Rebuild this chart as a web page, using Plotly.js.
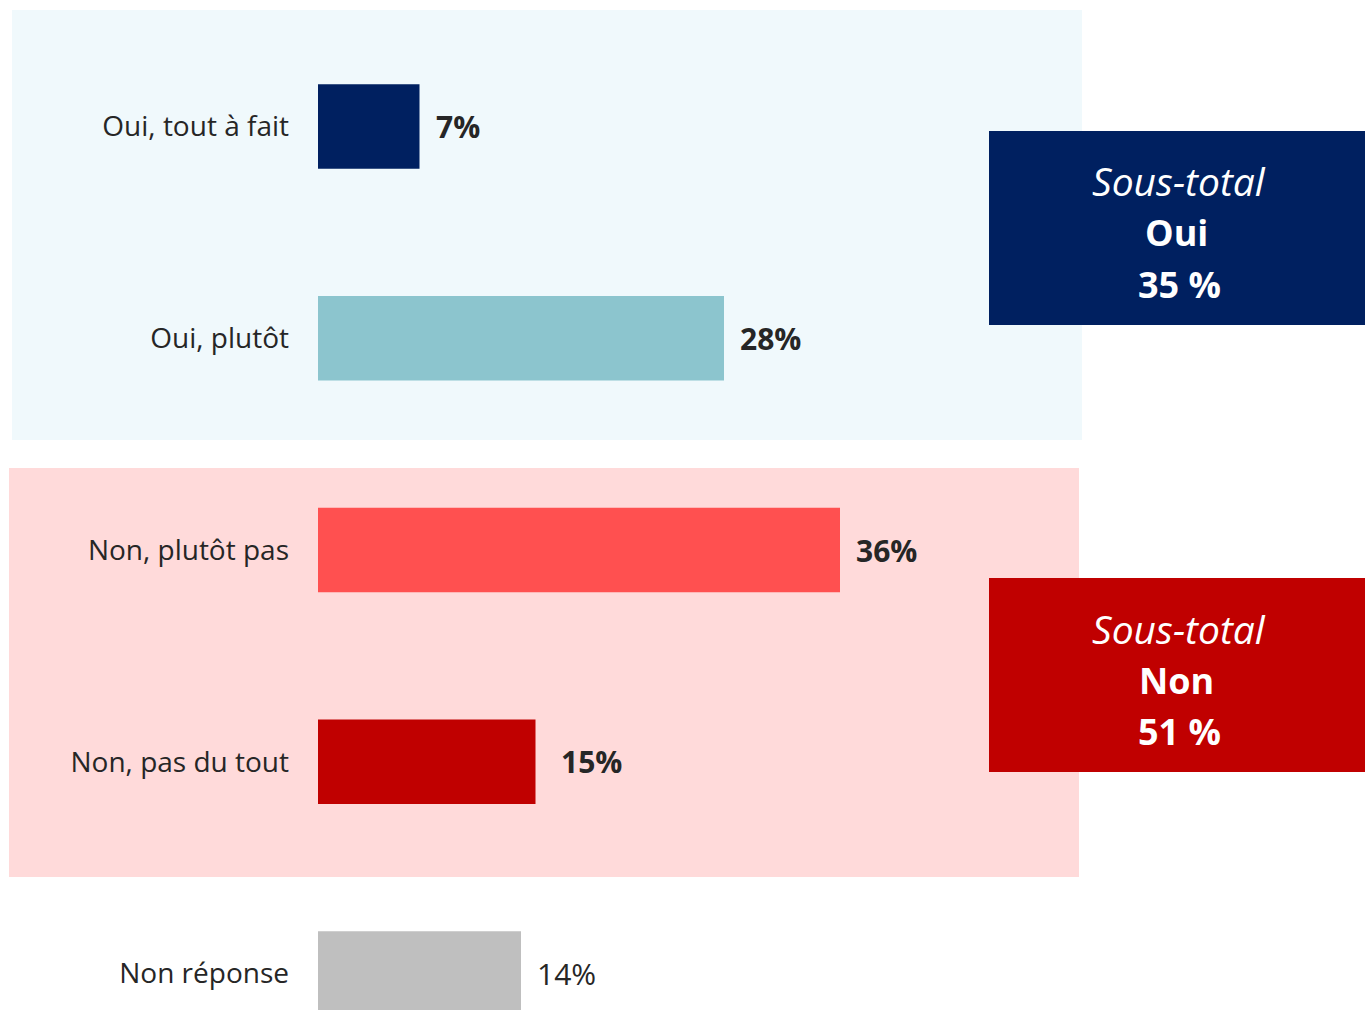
<!DOCTYPE html>
<html>
<head>
<meta charset="utf-8">
<script src="https://cdn.plot.ly/plotly-3.0.1.min.js"></script>
<style>html,body{margin:0;padding:0;background:#fff;}#chart{width:1365px;height:1010px;}</style>
</head>
<body>
<div id="chart"></div>
<script>
const categories = ['Oui, tout à fait', 'Oui, plutôt', 'Non, plutôt pas', 'Non, pas du tout', 'Non réponse'];
const values = [7, 28, 36, 15, 14];
const valueLabels = ['7%', '28%', '36%', '15%', '14%'];
const barColors = ['#002060', '#8CC5CE', '#FF5050', '#C00000', '#BFBFBF'];
const labelBold = [true, true, true, true, false];
const labelShift = [14, 14, 14, 23, 14];

const subtotalNames = ['Oui', 'Non'];
const subtotalValues = [35, 51];
const subtotalColors = ['#002060', '#C00000'];

const W = 1365, H = 1010, L = 318;
const pxPerPct = 14.5;
const px = v => (v - L) / (W - L);
const py = v => 1 - v / H;

const font = '"Open Sans", "Noto Sans", sans-serif';

const trace = {
  type: 'bar',
  orientation: 'h',
  y: categories,
  x: values,
  marker: {color: barColors},
  hoverinfo: 'none'
};

const shapes = [
  {type: 'rect', xref: 'paper', yref: 'paper', x0: px(12), x1: px(1082), y0: py(10), y1: py(440),
   fillcolor: '#F0F9FC', line: {width: 0}, layer: 'below'},
  {type: 'rect', xref: 'paper', yref: 'paper', x0: px(9), x1: px(1079), y0: py(468), y1: py(877),
   fillcolor: '#FFDADA', line: {width: 0}, layer: 'below'}
];
const boxTops = [131, 578];
const annotations = [];
subtotalNames.forEach((n, i) => {
  const t = boxTops[i];
  shapes.push({type: 'rect', xref: 'paper', yref: 'paper', x0: px(989), x1: px(1365), y0: py(t), y1: py(t + 194),
    fillcolor: subtotalColors[i], line: {width: 0}, layer: 'below'});
  const cx = px(1179);
  annotations.push({xref: 'paper', yref: 'paper', x: cx, y: py(t + 50), text: '<i>Sous-total</i>',
    showarrow: false, xanchor: 'center', yanchor: 'middle', font: {family: font, size: 39, color: '#ffffff'}});
  annotations.push({xref: 'paper', yref: 'paper', x: px(1176), y: py(t + 102), text: '<b>' + n + '</b>',
    showarrow: false, xanchor: 'center', yanchor: 'middle', font: {family: font, size: 36, color: '#ffffff'}});
  annotations.push({xref: 'paper', yref: 'paper', x: cx, y: py(t + 153), text: '<b>' + subtotalValues[i] + ' %</b>',
    showarrow: false, xanchor: 'center', yanchor: 'middle', font: {family: font, size: 36, color: '#ffffff'}});
});

categories.forEach((c, i) => {
  annotations.push({xref: 'x', yref: 'y', x: values[i], y: c,
    text: labelBold[i] ? '<b>' + valueLabels[i] + '</b>' : valueLabels[i],
    showarrow: false, xanchor: 'left', yanchor: 'middle', xshift: labelShift[i],
    font: {family: font, size: 30, color: '#262626'}});
});

const step = 211.75, c0 = 126.5;
const layout = {
  width: W, height: H,
  margin: {l: L, r: 0, t: 0, b: 0, pad: 0},
  paper_bgcolor: '#ffffff', plot_bgcolor: 'rgba(0,0,0,0)',
  showlegend: false,
  bargap: 0.6,
  xaxis: {range: [0, (W - L) / pxPerPct], visible: false, fixedrange: true},
  yaxis: {
    type: 'category',
    autorange: false,
    range: [(H - c0) / step, -c0 / step],
    showgrid: false, zeroline: false, showline: false,
    ticks: '', ticklabelstandoff: 28,
    tickfont: {family: font, size: 28, color: '#262626'},
    fixedrange: true
  },
  shapes: shapes,
  annotations: annotations
};

Plotly.newPlot('chart', [trace], layout, {displayModeBar: false, staticPlot: true});
</script>
</body>
</html>
